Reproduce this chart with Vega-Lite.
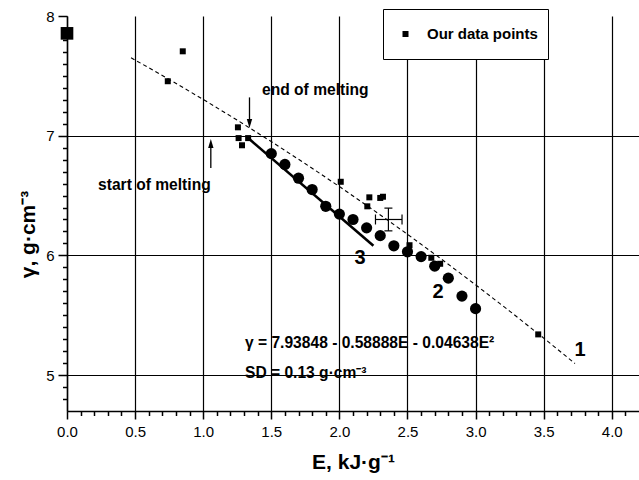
{
  "$schema": "https://vega.github.io/schema/vega-lite/v6.json",
  "width": 572,
  "height": 395,
  "autosize": "none",
  "padding": {"left": 67, "top": 16, "right": 0, "bottom": 69},
  "background": "white",
  "config": {
    "view": {"stroke": null},
    "font": "Liberation Sans",
    "axis": {
      "domainColor": "black",
      "tickColor": "black",
      "labelColor": "black",
      "titleColor": "black",
      "gridColor": "black",
      "labelFont": "Liberation Sans",
      "titleFont": "Liberation Sans"
    }
  },
  "datasets": {
    "curve": [
      {"E": 0.47, "g": 7.6515},
      {"E": 0.75, "g": 7.4707},
      {"E": 1.0, "g": 7.3032},
      {"E": 1.25, "g": 7.13},
      {"E": 1.5, "g": 6.9508},
      {"E": 1.75, "g": 6.7659},
      {"E": 2.0, "g": 6.5752},
      {"E": 2.25, "g": 6.3787},
      {"E": 2.5, "g": 6.1764},
      {"E": 2.75, "g": 5.9683},
      {"E": 3.0, "g": 5.7544},
      {"E": 3.25, "g": 5.5347},
      {"E": 3.5, "g": 5.3093},
      {"E": 3.73, "g": 5.0967}
    ],
    "line3": [
      {"E": 1.33, "g": 6.98},
      {"E": 2.25, "g": 6.08}
    ],
    "circles": [
      {"E": 1.5, "g": 6.85},
      {"E": 1.6, "g": 6.76},
      {"E": 1.7, "g": 6.645},
      {"E": 1.8, "g": 6.55},
      {"E": 1.9, "g": 6.41},
      {"E": 2.0, "g": 6.345},
      {"E": 2.1, "g": 6.3},
      {"E": 2.2, "g": 6.23},
      {"E": 2.3, "g": 6.165},
      {"E": 2.4, "g": 6.08},
      {"E": 2.5, "g": 6.03},
      {"E": 2.6, "g": 5.99},
      {"E": 2.7, "g": 5.91},
      {"E": 2.8, "g": 5.81},
      {"E": 2.9, "g": 5.66},
      {"E": 3.0, "g": 5.555}
    ],
    "squares": [
      {"E": 0.74, "g": 7.455},
      {"E": 0.85, "g": 7.705},
      {"E": 1.255, "g": 7.07},
      {"E": 1.26, "g": 6.98},
      {"E": 1.285, "g": 6.92},
      {"E": 1.33, "g": 6.98},
      {"E": 2.01, "g": 6.615},
      {"E": 2.205, "g": 6.41},
      {"E": 2.22, "g": 6.485},
      {"E": 2.3, "g": 6.48},
      {"E": 2.32, "g": 6.49},
      {"E": 2.515, "g": 6.085},
      {"E": 2.675, "g": 5.98},
      {"E": 2.74, "g": 5.93},
      {"E": 3.46, "g": 5.34}
    ],
    "ref": [{"E": 0.0, "g": 7.855}],
    "err": [{"E": 2.36, "g": 6.3, "Elo": 2.265, "Ehi": 2.46, "glo": 6.205, "ghi": 6.395}],
    "shafts": [
      {"E": 1.34, "g1": 7.32, "g2": 7.1},
      {"E": 1.056, "g1": 6.73, "g2": 6.935}
    ],
    "headDown": [{"E": 1.34, "g": 7.102}],
    "headUp": [{"E": 1.056, "g": 6.935}],
    "notes": [
      {"E": 1.432, "g": 7.382, "label": "end of melting"},
      {"E": 0.228, "g": 6.588, "label": "start of melting"},
      {"E": 1.307, "g": 5.268, "label": "γ = 7.93848 - 0.58888E - 0.04638E²"},
      {"E": 1.307, "g": 5.018, "label": "SD = 0.13 g·cm⁻³"}
    ],
    "curveNames": [
      {"E": 3.767, "g": 5.21, "label": "1"},
      {"E": 2.724, "g": 5.694, "label": "2"},
      {"E": 2.151, "g": 5.978, "label": "3"}
    ]
  },
  "layer": [
    {
      "data": {"name": "curve"},
      "mark": {"type": "line", "color": "black", "strokeWidth": 1.1, "strokeDash": [4, 3]},
      "encoding": {
        "x": {
          "field": "E", "type": "quantitative",
          "scale": {"domain": [0, 4.2], "nice": false, "zero": false},
          "axis": {
            "orient": "bottom",
            "values": [0, 0.1, 0.2, 0.3, 0.4, 0.5, 0.6, 0.7, 0.8, 0.9, 1, 1.1, 1.2, 1.3, 1.4, 1.5, 1.6, 1.7, 1.8, 1.9, 2, 2.1, 2.2, 2.3, 2.4, 2.5, 2.6, 2.7, 2.8, 2.9, 3, 3.1, 3.2, 3.3, 3.4, 3.5, 3.6, 3.7, 3.8, 3.9, 4, 4.1],
            "tickCount": 200,
            "format": ".1f",
            "grid": true,
            "gridWidth": 1.2,
            "gridOpacity": {"condition": {"test": "abs(datum.value * 2 - round(datum.value * 2)) > 0.01", "value": 0}, "value": 1},
            "tickSize": {"condition": {"test": "abs(datum.value * 2 - round(datum.value * 2)) > 0.01", "value": 4.5}, "value": 8},
            "labelOpacity": {"condition": {"test": "abs(datum.value * 2 - round(datum.value * 2)) > 0.01", "value": 0}, "value": 1},
            "labelOverlap": false,
            "labelBound": false,
            "tickWidth": 1.5,
            "domainWidth": 1.5,
            "labelFontSize": 15,
            "labelPadding": 5,
            "labelFlush": false,
            "title": "E, kJ·g⁻¹",
            "titleFontSize": 21,
            "titleFontWeight": "bold",
            "titlePadding": 12
          }
        },
        "y": {
          "field": "g", "type": "quantitative",
          "scale": {"domain": [4.7, 8], "nice": false, "zero": false},
          "axis": {
            "orient": "left",
            "values": [4.8, 4.9, 5, 5.1, 5.2, 5.3, 5.4, 5.5, 5.6, 5.7, 5.8, 5.9, 6, 6.1, 6.2, 6.3, 6.4, 6.5, 6.6, 6.7, 6.8, 6.9, 7, 7.1, 7.2, 7.3, 7.4, 7.5, 7.6, 7.7, 7.8, 7.9, 8],
            "tickCount": 200,
            "format": ".0f",
            "grid": true,
            "gridWidth": 1.2,
            "gridOpacity": {"condition": {"test": "datum.value > 7.5 || abs(datum.value - round(datum.value)) > 0.01", "value": 0}, "value": 1},
            "tickSize": {"condition": {"test": "abs(datum.value - round(datum.value)) > 0.01", "value": 4.5}, "value": 9},
            "labelOpacity": {"condition": {"test": "abs(datum.value - round(datum.value)) > 0.01", "value": 0}, "value": 1},
            "labelOverlap": false,
            "labelBound": false,
            "tickWidth": 1.5,
            "domainWidth": 1.5,
            "labelFontSize": 15,
            "labelPadding": 4,
            "labelFlush": false,
            "title": "γ, g·cm⁻³",
            "titleFontSize": 21,
            "titleFontWeight": "bold",
            "titleAngle": -90,
            "titleAlign": "center",
            "titleBaseline": "alphabetic",
            "titleX": -33,
            "titleY": 218
          }
        }
      }
    },
    {
      "data": {"name": "line3"},
      "mark": {"type": "line", "color": "black", "strokeWidth": 2.6},
      "encoding": {
        "x": {"field": "E", "type": "quantitative"},
        "y": {"field": "g", "type": "quantitative"}
      }
    },
    {
      "data": {"name": "circles"},
      "mark": {"type": "point", "shape": "circle", "filled": true, "color": "black", "opacity": 1, "size": 125},
      "encoding": {
        "x": {"field": "E", "type": "quantitative"},
        "y": {"field": "g", "type": "quantitative"}
      }
    },
    {
      "data": {"name": "squares"},
      "mark": {"type": "point", "filled": true, "color": "black", "opacity": 1, "size": 36},
      "encoding": {
        "x": {"field": "E", "type": "quantitative"},
        "y": {"field": "g", "type": "quantitative"},
        "shape": {
          "datum": "Our data points",
          "scale": {"range": ["square"]},
          "legend": {
            "title": null,
            "orient": "none",
            "legendX": 316,
            "legendY": -7,
            "strokeColor": "black",
            "fillColor": "white",
            "padding": 10,
            "clipHeight": 30,
            "symbolSize": 36,
            "symbolFillColor": "black",
            "symbolStrokeColor": "black",
            "symbolOffset": 5,
            "labelOffset": 14,
            "labelFont": "Liberation Sans",
            "labelFontSize": 15,
            "labelFontWeight": "bold",
            "labelColor": "black"
          }
        }
      }
    },
    {
      "data": {"name": "ref"},
      "mark": {"type": "point", "shape": "square", "filled": true, "color": "black", "opacity": 1, "size": 160},
      "encoding": {
        "x": {"field": "E", "type": "quantitative"},
        "y": {"field": "g", "type": "quantitative"}
      }
    },
    {
      "data": {"name": "err"},
      "mark": {"type": "rule", "color": "black", "strokeWidth": 1.2},
      "encoding": {
        "x": {"field": "Elo", "type": "quantitative"},
        "x2": {"field": "Ehi"},
        "y": {"field": "g", "type": "quantitative"}
      }
    },
    {
      "data": {"name": "err"},
      "mark": {"type": "rule", "color": "black", "strokeWidth": 1.2},
      "encoding": {
        "x": {"field": "E", "type": "quantitative"},
        "y": {"field": "glo", "type": "quantitative"},
        "y2": {"field": "ghi"}
      }
    },
    {
      "data": {"name": "err"},
      "layer": [
        {
          "mark": {"type": "tick", "orient": "vertical", "color": "black", "size": 10, "thickness": 1.2, "opacity": 1},
          "encoding": {
            "x": {"field": "Elo", "type": "quantitative"},
            "y": {"field": "g", "type": "quantitative"}
          }
        },
        {
          "mark": {"type": "tick", "orient": "vertical", "color": "black", "size": 10, "thickness": 1.2, "opacity": 1},
          "encoding": {
            "x": {"field": "Ehi", "type": "quantitative"},
            "y": {"field": "g", "type": "quantitative"}
          }
        },
        {
          "mark": {"type": "tick", "orient": "horizontal", "color": "black", "size": 8, "thickness": 1.2, "opacity": 1},
          "encoding": {
            "x": {"field": "E", "type": "quantitative"},
            "y": {"field": "glo", "type": "quantitative"}
          }
        },
        {
          "mark": {"type": "tick", "orient": "horizontal", "color": "black", "size": 8, "thickness": 1.2, "opacity": 1},
          "encoding": {
            "x": {"field": "E", "type": "quantitative"},
            "y": {"field": "ghi", "type": "quantitative"}
          }
        }
      ]
    },
    {
      "data": {"name": "shafts"},
      "mark": {"type": "rule", "color": "black", "strokeWidth": 1.3},
      "encoding": {
        "x": {"field": "E", "type": "quantitative"},
        "y": {"field": "g1", "type": "quantitative"},
        "y2": {"field": "g2"}
      }
    },
    {
      "data": {"name": "headDown"},
      "mark": {"type": "point", "shape": "M-0.6,-1L0.6,-1L0,1Z", "filled": true, "color": "black", "opacity": 1, "size": 80},
      "encoding": {
        "x": {"field": "E", "type": "quantitative"},
        "y": {"field": "g", "type": "quantitative"}
      }
    },
    {
      "data": {"name": "headUp"},
      "mark": {"type": "point", "shape": "M-0.6,1L0.6,1L0,-1Z", "filled": true, "color": "black", "opacity": 1, "size": 80},
      "encoding": {
        "x": {"field": "E", "type": "quantitative"},
        "y": {"field": "g", "type": "quantitative"}
      }
    },
    {
      "data": {"name": "notes"},
      "mark": {"type": "text", "align": "left", "baseline": "middle", "font": "Liberation Sans", "fontSize": 15.6, "fontWeight": "bold", "color": "black"},
      "encoding": {
        "x": {"field": "E", "type": "quantitative"},
        "y": {"field": "g", "type": "quantitative"},
        "text": {"field": "label"}
      }
    },
    {
      "data": {"name": "curveNames"},
      "mark": {"type": "text", "align": "center", "baseline": "middle", "font": "Liberation Sans", "fontSize": 20, "fontWeight": "bold", "color": "black"},
      "encoding": {
        "x": {"field": "E", "type": "quantitative"},
        "y": {"field": "g", "type": "quantitative"},
        "text": {"field": "label"}
      }
    }
  ]
}
